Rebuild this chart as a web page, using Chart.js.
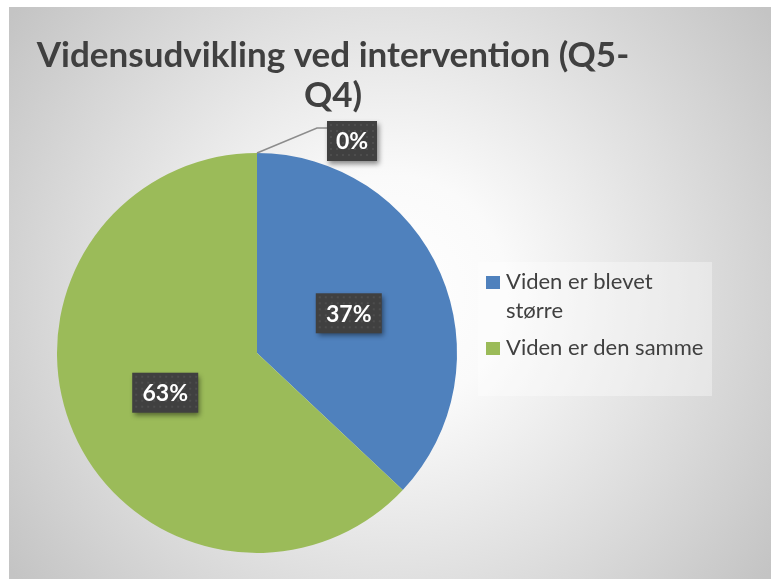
<!DOCTYPE html>
<html>
<head>
<meta charset="utf-8">
<script src="https://cdn.jsdelivr.net/npm/chart.js@4"></script>
<style>
  html, body { margin: 0; padding: 0; background: #ffffff; }
  #wrap { width: 779px; height: 579px; position: relative; }
</style>
</head>
<body>
<div id="wrap"><canvas id="c" width="779" height="579"></canvas></div>
<script>
const chartTitle = ['Vidensudvikling ved intervention (Q5-', 'Q4)'];
const categories = ['Viden er blevet større', 'Viden er den samme', ''];
const values = [37, 63, 0];
const colors = ['#4F81BD', '#9BBB59', '#C0504D'];

const FONT = "Lato, 'Open Sans', sans-serif";

const bgPlugin = {
  id: 'bg',
  beforeDraw(chart) {
    const ctx = chart.ctx;
    ctx.save();
    ctx.fillStyle = '#ffffff';
    ctx.fillRect(0, 0, chart.width, chart.height);
    const g = ctx.createRadialGradient(390, 293, 0, 390, 293, 470);
    g.addColorStop(0, '#ffffff');
    g.addColorStop(0.25, '#fafafa');
    g.addColorStop(1, '#c4c4c4');
    ctx.fillStyle = g;
    ctx.fillRect(9, 7, 762, 572);
    // legend panel
    ctx.fillStyle = 'rgba(255,255,255,0.35)';
    ctx.fillRect(478, 262, 234, 134);
    ctx.restore();
  }
};

const titlePlugin = {
  id: 'customTitle',
  afterDraw(chart) {
    const ctx = chart.ctx;
    ctx.save();
    ctx.fillStyle = '#404040';
    ctx.font = "bold 35px " + FONT;
    ctx.textAlign = 'center';
    ctx.textBaseline = 'alphabetic';
    chartTitle.forEach((t, i) => ctx.fillText(t, 333, 67 + i * 40));
    ctx.restore();
  }
};

function wrapText(ctx, text, maxW) {
  const words = text.split(' ');
  const lines = [];
  let cur = '';
  words.forEach(w => {
    const test = cur ? cur + ' ' + w : w;
    if (ctx.measureText(test).width > maxW && cur) { lines.push(cur); cur = w; }
    else cur = test;
  });
  if (cur) lines.push(cur);
  return lines;
}

const legendPlugin = {
  id: 'customLegend',
  afterDraw(chart) {
    const ctx = chart.ctx;
    const ds = chart.data.datasets[0];
    ctx.save();
    ctx.font = "22px " + FONT;
    ctx.textBaseline = 'alphabetic';
    ctx.textAlign = 'left';
    let y = 289;
    chart.data.labels.forEach((lab, i) => {
      if (!lab) return;
      ctx.fillStyle = ds.backgroundColor[i];
      ctx.fillRect(486, y - 13, 14, 13);
      ctx.fillStyle = '#404040';
      const lines = wrapText(ctx, lab, 205);
      lines.forEach((l, j) => ctx.fillText(l, 506, y + j * 29));
      y += (lines.length - 1) * 29 + 37;
    });
    ctx.restore();
  }
};

function drawLabelBox(ctx, text, cx, cy, w, h) {
  ctx.save();
  ctx.shadowColor = 'rgba(0,0,0,0.45)';
  ctx.shadowBlur = 5;
  ctx.shadowOffsetX = 2;
  ctx.shadowOffsetY = 3;
  ctx.fillStyle = '#404040';
  ctx.fillRect(cx - w / 2, cy - h / 2, w, h);
  ctx.restore();
  ctx.save();
  ctx.fillStyle = 'rgba(255,255,255,0.07)';
  for (let x = cx - w / 2 + 3; x < cx + w / 2 - 1; x += 6) {
    for (let y = cy - h / 2 + 3; y < cy + h / 2 - 1; y += 6) {
      ctx.fillRect(x, y, 2, 2);
    }
  }
  ctx.fillStyle = '#ffffff';
  ctx.font = "bold 23px " + FONT;
  ctx.textAlign = 'center';
  ctx.textBaseline = 'middle';
  ctx.fillText(text, cx, cy + 1);
  ctx.restore();
}

const dataLabelPlugin = {
  id: 'pctLabels',
  afterDatasetsDraw(chart) {
    const ctx = chart.ctx;
    const meta = chart.getDatasetMeta(0);
    const data = chart.data.datasets[0].data;
    const total = data.reduce((a, b) => a + b, 0);
    meta.data.forEach((arc, i) => {
      const p = arc.getProps(['x', 'y', 'startAngle', 'endAngle', 'outerRadius']);
      const mid = (p.startAngle + p.endAngle) / 2;
      const txt = Math.round(data[i] / total * 100) + '%';
      if (data[i] > 0) {
        const r = p.outerRadius * 0.5;
        drawLabelBox(ctx, txt, p.x + Math.cos(mid) * r, p.y + Math.sin(mid) * r, 66, 40);
      } else {
        const sx = p.x + Math.cos(mid) * p.outerRadius;
        const sy = p.y + Math.sin(mid) * p.outerRadius;
        const ex = sx + 60, ey = sy - 25;
        ctx.save();
        ctx.strokeStyle = '#8c8c8c';
        ctx.lineWidth = 1.5;
        ctx.beginPath();
        ctx.moveTo(sx, sy);
        ctx.lineTo(ex, ey);
        ctx.lineTo(ex + 10, ey);
        ctx.stroke();
        ctx.restore();
        drawLabelBox(ctx, txt, ex + 10 + 25, ey + 13, 50, 40);
      }
    });
  }
};

new Chart(document.getElementById('c'), {
  type: 'pie',
  data: {
    labels: categories,
    datasets: [{
      data: values,
      backgroundColor: colors,
      borderWidth: 0
    }]
  },
  options: {
    responsive: false,
    animation: false,
    events: [],
    layout: { padding: { left: 57, top: 153, right: 322, bottom: 26 } },
    plugins: {
      legend: { display: false },
      title: { display: false },
      tooltip: { enabled: false }
    }
  },
  plugins: [bgPlugin, titlePlugin, legendPlugin, dataLabelPlugin]
});
</script>
</body>
</html>
